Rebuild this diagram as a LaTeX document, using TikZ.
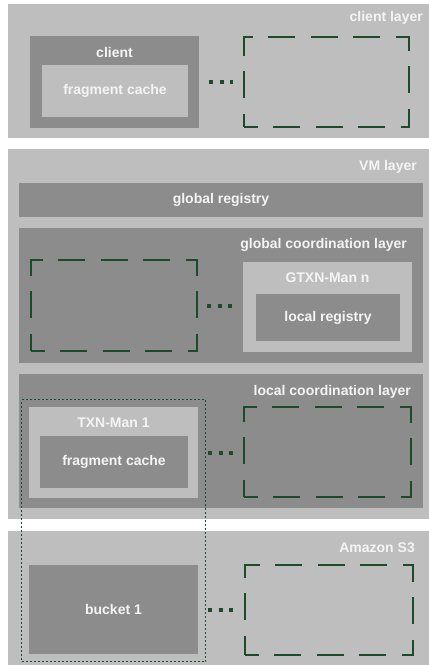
\documentclass[tikz,border=0pt]{standalone}
\usepackage{fontspec}
\setmainfont{Liberation Sans}
\usetikzlibrary{fit}
\definecolor{layergray}{HTML}{BEBEBE}
\definecolor{boxgray}{HTML}{8C8C8C}
\definecolor{labelwhite}{HTML}{F4F4F4}
\definecolor{dashgreen}{HTML}{1C4A2A}

\tikzset{
        lightbox/.style={fill=layergray, inner sep=0pt, outer sep=0pt},
        darkbox/.style={fill=boxgray, inner sep=0pt, outer sep=0pt},
        boxtext/.style={text=labelwhite, inner sep=0pt, font=\bfseries\fontsize{14}{16}\selectfont},
        emptybox/.style={draw=dashgreen, line width=1.4pt, dash pattern=on 27pt off 15.5pt, dash phase=13.5pt, inner sep=0pt, outer sep=0pt},
        moredots/.style={draw=dashgreen, line width=4pt, dash pattern=on 4pt off 6.5pt, shorten <=10pt, shorten >=11pt},
        groupbox/.style={draw=dashgreen, line width=1.6pt, dash pattern=on 2pt off 2pt, inner sep=7.5pt},
}

\begin{document}
\begin{tikzpicture}[x=1pt, y=-1pt]
        \useasboundingbox (0,0) rectangle (429,665);

        \node[lightbox, minimum width=421pt, minimum height=134pt] (clientlayer) at (218.5,71) {};
        \node[lightbox, minimum width=421pt, minimum height=370pt] (vmlayer) at (218.5,334) {};
        \node[lightbox, minimum width=421pt, minimum height=134pt] (s3layer) at (218.5,598) {};
        \node[boxtext, anchor=east] (clientlayerlabel) at (423,18) {client layer};
        \node[boxtext, anchor=east] (vmlayerlabel) at (417,167) {VM layer};
        \node[boxtext, anchor=east] (s3layerlabel) at (415,548) {Amazon S3};

        \node[darkbox, boxtext, minimum width=404pt, minimum height=34pt] (globalreg) at (221,200) {global registry};
        \node[darkbox, minimum width=404pt, minimum height=135pt] (globalcoord) at (221,295.5) {};
        \node[darkbox, minimum width=404pt, minimum height=134pt] (localcoord) at (221,441) {};
        \node[boxtext, anchor=east] (globalcoordlabel) at (407,245) {global coordination layer};
        \node[boxtext, anchor=east] (localcoordlabel) at (411,392) {local coordination layer};

        \node[darkbox, minimum width=169pt, minimum height=92pt] (client) at (114.5,82) {};
        \node[boxtext] (clienttitle) at ([yshift=-16pt]client.north) {client};
        \node[lightbox, boxtext, minimum width=146pt, minimum height=52pt] (clientcache) at (115,91) {fragment cache};
        \node[emptybox, minimum width=165pt, minimum height=90pt] (clientmore) at (326.5,82) {};

        \node[emptybox, minimum width=166pt, minimum height=91pt] (globalmore) at (114,305.5) {};
        \node[lightbox, minimum width=169pt, minimum height=90pt] (gtxn) at (327.5,307) {};
        \node[boxtext] (gtxntitle) at ([yshift=-16pt]gtxn.north) {GTXN-Man n};
        \node[darkbox, boxtext, minimum width=144pt, minimum height=47pt] (localreg) at (328,317.5) {local registry};

        \node[lightbox, minimum width=169pt, minimum height=91pt] (txn) at (113.5,452.5) {};
        \node[boxtext] (txntitle) at ([yshift=-16pt]txn.north) {TXN-Man 1};
        \node[darkbox, boxtext, minimum width=148pt, minimum height=52pt] (txncache) at (114,462) {fragment cache};
        \node[emptybox, minimum width=167pt, minimum height=90pt] (localmore) at (327.5,452) {};

        \node[darkbox, boxtext, minimum width=169pt, minimum height=89pt] (bucket) at (113.5,609.5) {bucket 1};
        \node[emptybox, minimum width=168pt, minimum height=90pt] (s3more) at (329,610) {};

        \draw[moredots] (client.east) -- (client.east -| clientmore.west);
        \draw[moredots] (globalmore.east) -- (globalmore.east -| gtxn.west);
        \draw[moredots] (txn.east) -- (txn.east -| localmore.west);
        \draw[moredots] (bucket.east) -- (bucket.east -| s3more.west);

        \node[groupbox, fit=(txn)(bucket)] (txngroup) {};
\end{tikzpicture}
\end{document}
